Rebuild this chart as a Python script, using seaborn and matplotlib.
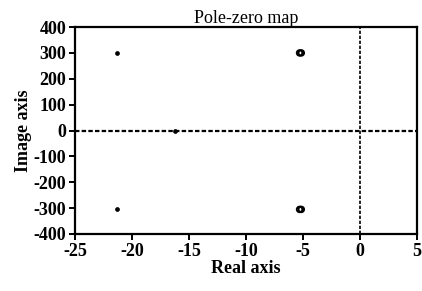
import seaborn as sns
import matplotlib.pyplot as plt
import pandas as pd

# pole / zero locations
pole_re = [-21.3, -21.3, -16.2]
pole_im = [300, -305, 0]
zero_re = [-5.3, -5.15, -5.3, -5.15]
zero_im = [300, 300, -305, -305]

x_ticks = [-25, -20, -15, -10, -5, 0, 5]
y_ticks = [-400, -300, -200, -100, 0, 100, 200, 300, 400]

sns.set_theme(style="ticks")
plt.rcParams['font.family'] = ['Liberation Serif', 'DejaVu Serif']
plt.rcParams['text.color'] = 'black'
plt.rcParams['axes.labelcolor'] = 'black'
plt.rcParams['xtick.color'] = 'black'
plt.rcParams['ytick.color'] = 'black'

fig = plt.figure(figsize=(4.22, 2.91), dpi=100)
ax = fig.add_axes([0.178, 0.196, 0.81, 0.711])

poles = pd.DataFrame({"re": pole_re, "im": pole_im})
zeros = pd.DataFrame({"re": zero_re, "im": zero_im})

ax.axhline(0, color="black", linestyle=(0, (2, 1)), linewidth=1.6, zorder=1)
ax.axvline(0, color="black", linestyle=(0, (2, 1)), linewidth=1.2, zorder=1)

sns.scatterplot(data=poles, x="re", y="im", ax=ax, color="black", s=8,
                marker="o", edgecolor="black", linewidth=0.5, zorder=3)
sns.scatterplot(data=zeros, x="re", y="im", ax=ax, s=16, marker="o",
                facecolor="none", edgecolor="black", linewidth=1.4, zorder=3)

ax.set_xlim(-25, 5)
ax.set_ylim(-400, 400)
ax.set_xticks(x_ticks)
ax.set_yticks(y_ticks)
ax.set_xticklabels([str(t) for t in x_ticks], fontsize=13, fontweight="bold")
ax.set_yticklabels([str(t) for t in y_ticks], fontsize=13, fontweight="bold")

for s in ax.spines.values():
    s.set_linewidth(1.6)
    s.set_color("black")
ax.tick_params(direction="out", length=4, width=1.4, color="black", pad=2.5)

ax.set_title("Pole-zero map", fontsize=13, pad=3)
ax.set_xlabel("Real axis", fontsize=13, fontweight="bold", labelpad=0)
ax.set_ylabel("Image axis", fontsize=13, fontweight="bold", labelpad=1)

fig.savefig("out.png", dpi=100)
